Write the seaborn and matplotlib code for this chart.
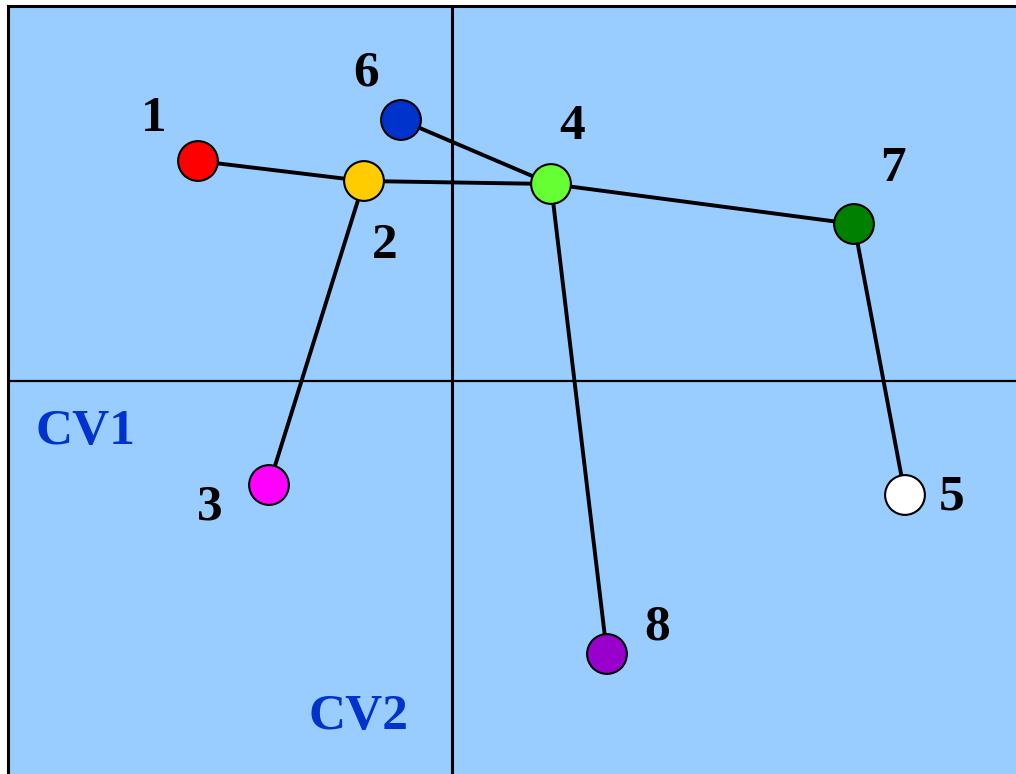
import matplotlib
matplotlib.use("Agg")
import matplotlib.pyplot as plt
import seaborn as sns
import pandas as pd

# Data: canonical variate scores (CV1, CV2) for groups 1-8
groups = ["1", "2", "3", "4", "5", "6", "7", "8"]
cv1 = [-2.54, -0.88, -1.83, 0.99, 4.53, -0.51, 4.02, 1.55]
cv2 = [2.20, 2.00, -1.04, 1.97, -1.14, 2.61, 1.57, -2.73]
colors = ["#FF0000", "#FFCC00", "#FF00FF", "#66FF33", "#FFFFFF", "#0033CC", "#008000", "#9900CC"]
# minimum spanning tree edges
edges = [("1", "2"), ("2", "4"), ("6", "4"), ("4", "7"), ("2", "3"), ("4", "8"), ("7", "5")]
# label offsets in pixels (dx, dy)
label_offsets = {"1": (-44, 42), "2": (21, -65), "3": (-59, -22), "4": (21, 57),
                 "5": (47, -2), "6": (-35, 47), "7": (39, 55), "8": (50, 26)}

df = pd.DataFrame({"group": groups, "cv1": cv1, "cv2": cv2})
pos = {g: (x, y) for g, x, y in zip(groups, cv1, cv2)}
rows = []
for k, (a, b) in enumerate(edges):
    for g in (a, b):
        rows.append({"edge": k, "cv1": pos[g][0], "cv2": pos[g][1]})
edf = pd.DataFrame(rows)

W, H = 1016, 774
fig = plt.figure(figsize=(W / 100, H / 100), dpi=100)
fig.patch.set_facecolor("white")
left_px, top_px = 8, 6
ax_w = 1.05
ax_h = 1 - top_px / H + 0.02
ax = fig.add_axes([left_px / W, -0.02, ax_w, ax_h])
ax.set_facecolor("#99CCFF")

ax.axhline(0, color="black", lw=1.6, zorder=1)
ax.axvline(0, color="black", lw=2.2, zorder=1)

sns.lineplot(data=edf, x="cv1", y="cv2", units="edge", estimator=None,
             color="black", lw=2.8, sort=False, ax=ax, zorder=2, legend=False)
sns.scatterplot(data=df, x="cv1", y="cv2", hue="group", palette=dict(zip(groups, colors)),
                s=820, edgecolor="black", linewidth=1.5, ax=ax, zorder=3, legend=False)

fam = ["Liberation Serif", "DejaVu Serif"]
for g in groups:
    dx, dy = label_offsets[g]
    ax.annotate(g, pos[g], xytext=(dx, dy), textcoords="offset pixels",
                ha="center", va="center", fontsize=37, fontweight="bold",
                family=fam, color="black")

ax.text(-3.67, -0.51, "CV1", ha="center", va="center", fontsize=37, fontweight="bold",
        family=fam, color="#0033CC")
ax.text(-0.94, -3.36, "CV2", ha="center", va="center", fontsize=37, fontweight="bold",
        family=fam, color="#0033CC")

# axis limits so that the origin sits where the reference crosshair is
ax.set_xlim(-4.44, -4.44 + ax_w * W / 100)
yr = ax_h * H / 100
ax.set_ylim(3.75 - yr, 3.75)
ax.set_xticks([])
ax.set_yticks([])
ax.set_xlabel("")
ax.set_ylabel("")
for side in ["right", "bottom"]:
    ax.spines[side].set_visible(False)
for side in ["left", "top"]:
    ax.spines[side].set_visible(True)
    ax.spines[side].set_color("black")
    ax.spines[side].set_linewidth(2.2)

fig.savefig("out.png", dpi=100)
